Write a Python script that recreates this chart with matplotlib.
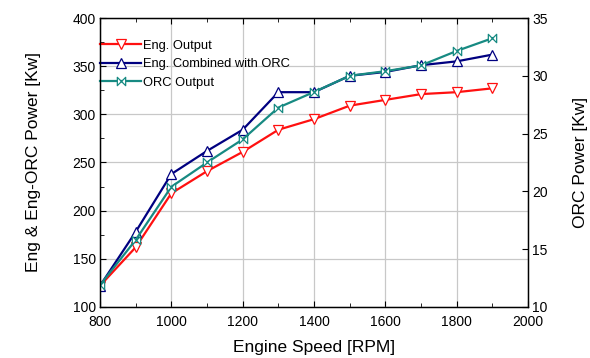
import matplotlib.pyplot as plt
from matplotlib.path import Path
from matplotlib.ticker import MultipleLocator

plt.rcParams['font.family'] = ['Liberation Sans', 'DejaVu Sans']

rpm = [800, 900, 1000, 1100, 1200, 1300, 1400, 1500, 1600, 1700, 1800, 1900]
eng_out = [122, 162, 218, 241, 261, 284, 295, 309, 315, 321, 323, 327]
eng_orc = [122, 178, 238, 262, 284, 323, 323, 340, 344, 351, 355, 362]
orc_out = [11.9, 15.8, 20.4, 22.5, 24.5, 27.25, 28.6, 30.0, 30.4, 30.9, 32.15, 33.25]

# bowtie marker  |><|
bowtie = Path([(-1, 1), (1, -1), (1, 1), (-1, -1), (-1, 1)],
              [Path.MOVETO, Path.LINETO, Path.LINETO, Path.LINETO, Path.CLOSEPOLY])

fig = plt.figure(figsize=(5.9, 3.58), dpi=100)
ax = fig.add_axes([0.1695, 0.1425, 0.7255, 0.8072])
ax2 = ax.twinx()

l1, = ax.plot(rpm, eng_out, color='#ff1010', lw=1.6, marker='v', ms=7,
              mfc='white', mec='#ff1010', mew=0.9, label='Eng. Output')
l2, = ax.plot(rpm, eng_orc, color='#000080', lw=1.6, marker='^', ms=7,
              mfc='white', mec='#000080', mew=0.9, label='Eng. Combined with ORC')
l3, = ax2.plot(rpm, orc_out, color='#178a82', lw=1.6, marker=bowtie, ms=6,
               mfc='white', mec='#178a82', mew=0.9, label='ORC Output')

ax.set_xlim(800, 2000)
ax.set_ylim(100, 400)
ax2.set_ylim(10, 35)
ax.xaxis.set_major_locator(MultipleLocator(200))
ax.xaxis.set_minor_locator(MultipleLocator(100))
ax.yaxis.set_major_locator(MultipleLocator(50))
ax.yaxis.set_minor_locator(MultipleLocator(25))
ax2.yaxis.set_major_locator(MultipleLocator(5))

ax.grid(True, which='major', color='#c8c8c8', lw=0.9)
ax.set_axisbelow(True)
ax.tick_params(which='both', direction='in', top=True, labelsize=10, pad=3)
ax.tick_params(axis='x', which='both', pad=6)
ax.tick_params(which='major', length=4)
ax.tick_params(which='minor', length=3)
ax2.tick_params(direction='in', length=4, labelsize=10, pad=3)

for a in (ax, ax2):
    for s in a.spines.values():
        s.set_linewidth(0.9)

ax.set_xlabel('Engine Speed [RPM]', fontsize=12.5, labelpad=8)
ax.set_ylabel('Eng & Eng-ORC Power [Kw]', fontsize=12.5, labelpad=23)
ax2.set_ylabel('ORC Power [Kw]', fontsize=12.5, labelpad=18)

ax.legend(handles=[l1, l2, l3], loc='upper left', bbox_to_anchor=(0.0, 0.925),
          frameon=False, fontsize=9.3, handlelength=3.2, handletextpad=0.1,
          labelspacing=0.5, borderaxespad=0, borderpad=0)

fig.savefig('out.png', dpi=100)
